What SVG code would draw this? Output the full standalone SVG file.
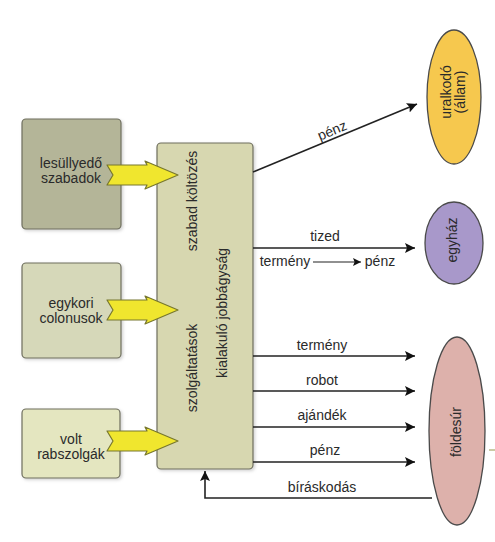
<svg xmlns="http://www.w3.org/2000/svg" width="495" height="542" viewBox="0 0 495 542">
<defs>
<style>
text{font-family:"Liberation Sans",Arial,sans-serif;font-size:14px;fill:#2a2a2a;text-anchor:middle}
.box{stroke:#6e6e5e;stroke-width:1.2}
.ya{fill:#f0e62e;stroke:#77772e;stroke-width:1.2;stroke-linejoin:round}
.ln{stroke:#222;stroke-width:1.6;fill:none}
.ell{stroke:#4a4a4a;stroke-width:1.3}
</style>
<marker id="ah" viewBox="0 0 10 10" refX="10" refY="5" markerWidth="10" markerHeight="10" markerUnits="userSpaceOnUse" orient="auto">
<path d="M0,0 L10,5 L0,10 L2,5 Z" fill="#111"/>
</marker>
<marker id="ahs" viewBox="0 0 10 10" refX="10" refY="5" markerWidth="8" markerHeight="8" markerUnits="userSpaceOnUse" orient="auto">
<path d="M0,0 L10,5 L0,10 L2,5 Z" fill="#111"/>
</marker>
<filter id="sh" x="-10%" y="-10%" width="130%" height="130%">
<feDropShadow dx="1.5" dy="1.5" stdDeviation="1.5" flood-color="#000" flood-opacity="0.18"/>
</filter>
</defs>
<rect width="495" height="542" fill="#ffffff"/>

<g id="lesullyedo">
<rect class="box" x="22" y="119" width="99" height="110" rx="4" fill="#b4b598" filter="url(#sh)"/>
<text x="71" y="168">lesüllyedő</text>
<text x="71" y="183">szabadok</text>
</g>
<g id="colonusok">
<rect class="box" x="22" y="263" width="99" height="95" rx="4" fill="#d6d8b9" filter="url(#sh)"/>
<text x="71" y="308">egykori</text>
<text x="71" y="323">colonusok</text>
</g>
<g id="rabszolgak">
<rect class="box" x="22" y="409" width="98" height="69" rx="4" fill="#e4e6c0" filter="url(#sh)"/>
<text x="71" y="444">volt</text>
<text x="71" y="459">rabszolgák</text>
</g>

<g id="jobbagysag">
<rect class="box" x="157" y="143" width="96" height="326" rx="4" fill="#d7d7b0" filter="url(#sh)"/>
<text transform="translate(197,201) rotate(-90)">szabad költözés</text>
<text transform="translate(197,368) rotate(-90)">szolgáltatások</text>
<text transform="translate(227,313) rotate(-90)">kialakuló jobbágyság</text>
</g>

<g id="block-arrows">
<path class="ya" d="M107,165 L147,165 L145,161 L178,175 L145,189 L147,185 L107,185 L113,175 Z"/>
<path class="ya" d="M107,300 L147,300 L145,296 L178,310 L145,324 L147,320 L107,320 L113,310 Z"/>
<path class="ya" d="M107,431 L147,431 L145,427 L178,441 L145,455 L147,451 L107,451 L113,441 Z"/>
</g>

<g id="uralkodo">
<ellipse class="ell" cx="454" cy="97" rx="27" ry="67" fill="#f6c84e"/>
<text transform="translate(451,92) rotate(-90)">uralkodó</text>
<text transform="translate(465,92) rotate(-90)">(állam)</text>
</g>
<g id="egyhaz">
<ellipse class="ell" cx="454" cy="243" rx="29" ry="41" fill="#a898ca"/>
<text transform="translate(457,240) rotate(-90)">egyház</text>
</g>
<g id="foldesur">
<ellipse class="ell" cx="457" cy="431" rx="28" ry="94" fill="#ddb1ab"/>
<text transform="translate(461,432) rotate(-90)">földesúr</text>
</g>

<g id="connectors">
<line class="ln" x1="253" y1="172" x2="417" y2="104" marker-end="url(#ah)"/>
<text transform="translate(334,135) rotate(-22.5)">pénz</text>
<line class="ln" x1="253" y1="248" x2="415" y2="248" marker-end="url(#ah)"/>
<text x="325" y="241">tized</text>
<text x="285" y="266">termény</text>
<line x1="313" y1="262" x2="361" y2="262" stroke="#222" stroke-width="1.2" marker-end="url(#ahs)"/>
<text x="380" y="266">pénz</text>
<line class="ln" x1="253" y1="356" x2="415" y2="356" marker-end="url(#ah)"/>
<text x="322" y="350">termény</text>
<line class="ln" x1="253" y1="391" x2="415" y2="391" marker-end="url(#ah)"/>
<text x="322" y="385">robot</text>
<line class="ln" x1="253" y1="427" x2="415" y2="427" marker-end="url(#ah)"/>
<text x="322" y="420">ajándék</text>
<line class="ln" x1="253" y1="462" x2="415" y2="462" marker-end="url(#ah)"/>
<text x="325" y="455">pénz</text>
<polyline class="ln" points="432,498 205,498 205,471" marker-end="url(#ah)"/>
<text x="322" y="492">bíráskodás</text>
<line x1="489" y1="450" x2="495" y2="450" stroke="#a8a86a" stroke-width="1.2"/>
</g>
</svg>
